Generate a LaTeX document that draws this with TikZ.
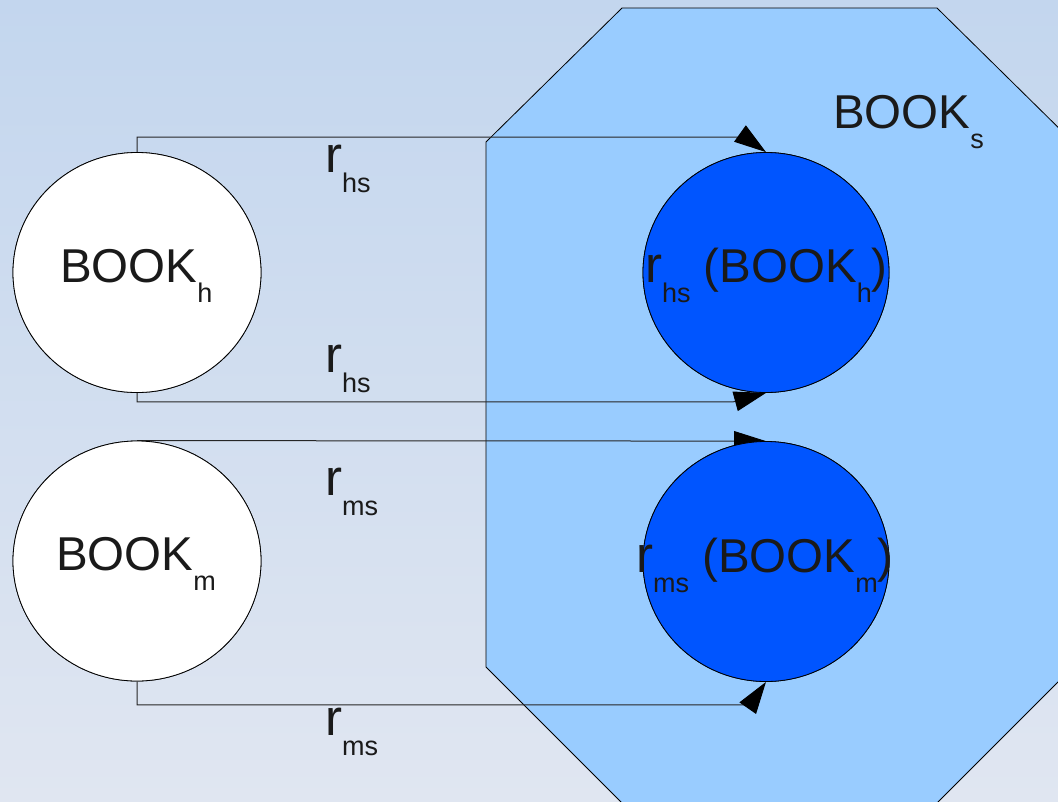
\documentclass[tikz,border=0pt]{standalone}
\usepackage{fontspec}
\setmainfont{Liberation Sans}
\usetikzlibrary{arrows.meta,shapes.geometric}
\definecolor{bgtop}{RGB}{195,214,238}
\definecolor{bgbot}{RGB}{224,230,241}
\definecolor{octfill}{RGB}{153,204,255}
\definecolor{deepblue}{RGB}{0,85,255}
\definecolor{txtcol}{RGB}{26,26,26}
\newcommand{\bigtxt}[1]{{\fontsize{47.5}{47.5}\selectfont #1}}
\newcommand{\rtxt}{{\fontsize{51}{51}\selectfont r}}
\newcommand{\subtxt}[1]{\raisebox{-20pt}{\fontsize{27}{27}\selectfont #1}}
\begin{document}
\begin{tikzpicture}[x=1pt,y=-1pt,
  bookw/.style={ellipse,draw=black,line width=0.8pt,fill=white,minimum width=248pt,minimum height=240pt,inner sep=0pt},
  bookb/.style={ellipse,draw=black,line width=0.8pt,fill=deepblue,minimum width=246pt,minimum height=240pt,inner sep=0pt},
  conn/.style={draw=black!85,line width=1pt,-{Triangle[length=32pt,width=20pt,color=black]}},
  lbl/.style={anchor=base west,inner sep=0pt,text=txtcol}]
\useasboundingbox (0,0) rectangle (1058,801);
\clip (0,0) rectangle (1058,801);
\shade[top color=bgtop,bottom color=bgbot] (0,0) rectangle (1058,801);
% octagon BOOK_s
\draw[fill=octfill,draw=black,line width=0.8pt] (622,8) -- (937,8) -- (1073,142) -- (1073,667) -- (937,803) -- (622,803) -- (486,667) -- (486,142) -- cycle;
% circle nodes
\node[bookw] (bh) at (137,272.5) {};
\node[bookw] (bm) at (137,561) {};
\node[bookb] (rh) at (766,272.5) {};
\node[bookb] (rm) at (766,561.5) {};
% connectors
\draw[conn] (bh.north) |- ([shift={(-21,-15)}]rh.north) -- (rh.north);
\draw[conn] (bh.south) |- ([shift={(-33,9)}]rh.south) -- (rh.south);
\draw[conn] (bm.north) -- (rm.north);
\draw[conn] (bm.south) |- ([shift={(-16,23)}]rm.south) -- (rm.south);
% redraw circles over the lines
\node[bookw] at (bh) {};
\node[bookw] at (bm) {};
\node[bookb] at (rh) {};
\node[bookb] at (rm) {};
% texts
\node[lbl] (tbh) at (60,282) {\bigtxt{BOOK}\subtxt{h}};
\node[lbl] (tbm) at (56,570) {\bigtxt{BOOK}\subtxt{m}};
\node[lbl] (tbs) at (833,128) {\bigtxt{BOOK}\subtxt{s}};
\node[lbl] (l1) at (325,172) {\rtxt\subtxt{hs}};
\node[lbl] (l2) at (325,372) {\rtxt\subtxt{hs}};
\node[lbl] (l3) at (325,495) {\rtxt\subtxt{ms}};
\node[lbl] (l4) at (325,735) {\rtxt\subtxt{ms}};
\node[lbl] (trh) at (645,282) {\rtxt\subtxt{hs}\bigtxt{\ (BOOK}\subtxt{h}\bigtxt{)}};
\node[lbl] (trm) at (636,572) {\rtxt\subtxt{ms}\bigtxt{\ (BOOK}\subtxt{m}\bigtxt{)}};
\end{tikzpicture}
\end{document}
